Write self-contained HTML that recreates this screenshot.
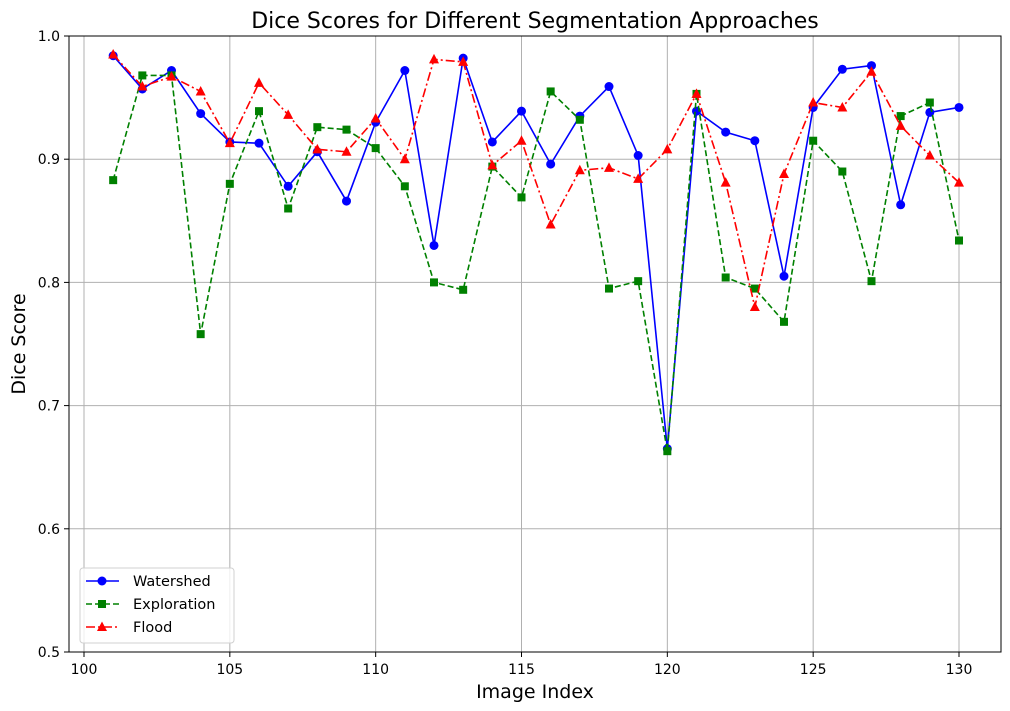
<!DOCTYPE html>
<html><head><meta charset="utf-8"><style>
body{margin:0;background:#fff;}
svg{display:block;font-family:"DejaVu Sans","Liberation Sans",sans-serif;}
</style></head><body>
<svg id="chart" width="1010" height="711" xmlns="http://www.w3.org/2000/svg"></svg>
<script>
const xValues=[101,102,103,104,105,106,107,108,109,110,111,112,113,114,115,116,117,118,119,120,121,122,123,124,125,126,127,128,129,130];
const watershed=[0.984,0.957,0.972,0.937,0.914,0.913,0.878,0.906,0.866,0.930,0.972,0.830,0.982,0.914,0.939,0.896,0.935,0.959,0.903,0.665,0.939,0.922,0.915,0.805,0.942,0.973,0.976,0.863,0.938,0.942];
const exploration=[0.883,0.968,0.968,0.758,0.880,0.939,0.860,0.926,0.924,0.909,0.878,0.800,0.794,0.894,0.869,0.955,0.932,0.795,0.801,0.663,0.953,0.804,0.795,0.768,0.915,0.890,0.801,0.935,0.946,0.834];
const flood=[0.985,0.959,0.967,0.955,0.913,0.962,0.936,0.908,0.906,0.933,0.900,0.981,0.979,0.895,0.915,0.847,0.891,0.893,0.884,0.908,0.953,0.881,0.780,0.888,0.946,0.942,0.971,0.927,0.903,0.881];
const xTicks=[100,105,110,115,120,125,130];
const yTicks=[0.5,0.6,0.7,0.8,0.9,1.0];
const L=69,T=36,R=1001,B=652;
const X=v=>84+(v-100)*(959-84)/30;
const Y=v=>B-(v-0.5)*(B-T)/0.5;
const svg=document.getElementById('chart');
const NS='http://www.w3.org/2000/svg';
function mk(tag,attrs,parent){const e=document.createElementNS(NS,tag);for(const k in attrs)e.setAttribute(k,attrs[k]);(parent||svg).appendChild(e);return e;}
let t=mk('text',{x:535,y:28,'font-size':22,'text-anchor':'middle',fill:'#000'});t.textContent='Dice Scores for Different Segmentation Approaches';


xTicks.forEach(v=>{
 const g=mk('line',{x1:X(v),x2:X(v),y1:T,y2:B,stroke:'#b0b0b0','stroke-width':1});
 
 
 mk('line',{x1:X(v),x2:X(v),y1:B,y2:B+5,stroke:'#000'});
 const l=mk('text',{x:X(v),y:B+22,'font-size':14,'text-anchor':'middle'});l.textContent=v;
 
 
});
yTicks.forEach(v=>{
 const g=mk('line',{x1:L,x2:R,y1:Y(v),y2:Y(v),stroke:'#b0b0b0','stroke-width':1});
 
 
 mk('line',{x1:L-5,x2:L,y1:Y(v),y2:Y(v),stroke:'#000'});
 const l=mk('text',{x:L-9,y:Y(v)+5,'font-size':14,'text-anchor':'end'});l.textContent=v.toFixed(1);
 
 
});
const frame=mk('rect',{x:L,y:T,width:R-L,height:B-T,fill:'none',stroke:'#000','stroke-width':1});


let xl=mk('text',{x:535,y:698,'font-size':19,'text-anchor':'middle'});xl.textContent='Image Index';


let yl=mk('text',{x:25,y:344,'font-size':19,'text-anchor':'middle',transform:'rotate(-90 25 344)'});yl.textContent='Dice Score';


function marker(type,x,y,c,p){
 if(type==='o')return mk('circle',{cx:x,cy:y,r:4.5,fill:c},p);
 if(type==='s')return mk('rect',{x:x-4,y:y-4,width:8,height:8,fill:c},p);
 return mk('polygon',{points:`${x},${y-5.5} ${x-5},${y+4} ${x+5},${y+4}`,fill:c},p);
}
const series=[[watershed,'#0000ff','','o','watershed'],[exploration,'#008000','6,3','s','exploration'],[flood,'#ff0000','9,3,2,3','^','flood']];
series.forEach(([d,c,dash,m,n])=>{
 const g=mk('g',{});
 
 
 const pl=mk('polyline',{points:d.map((v,i)=>X(xValues[i])+','+Y(v)).join(' '),fill:'none',stroke:c,'stroke-width':1.6,'stroke-dasharray':dash},g);
 
 
 d.forEach((v,i)=>{const p=marker(m,X(xValues[i]),Y(v),c,g);
  
  });
});
const lg=mk('g',{});


mk('rect',{x:80,y:568,width:154,height:75,rx:3,fill:'#fff','fill-opacity':0.8,stroke:'#d0d0d0'},lg);
[['Watershed','#0000ff','','o'],['Exploration','#008000','6,3','s'],['Flood','#ff0000','9,3,2,3','^']].forEach(([n,c,dash,m],i)=>{
 const y=581+i*23;
 const e=mk('g',{},lg);
 
 
 mk('line',{x1:86,x2:119,y1:y,y2:y,stroke:c,'stroke-width':1.6,'stroke-dasharray':dash},e);
 marker(m,102,y,c,e);
 const tx=mk('text',{x:133,y:y+5,'font-size':14.5},e);tx.textContent=n;
});
</script>
</body></html>
